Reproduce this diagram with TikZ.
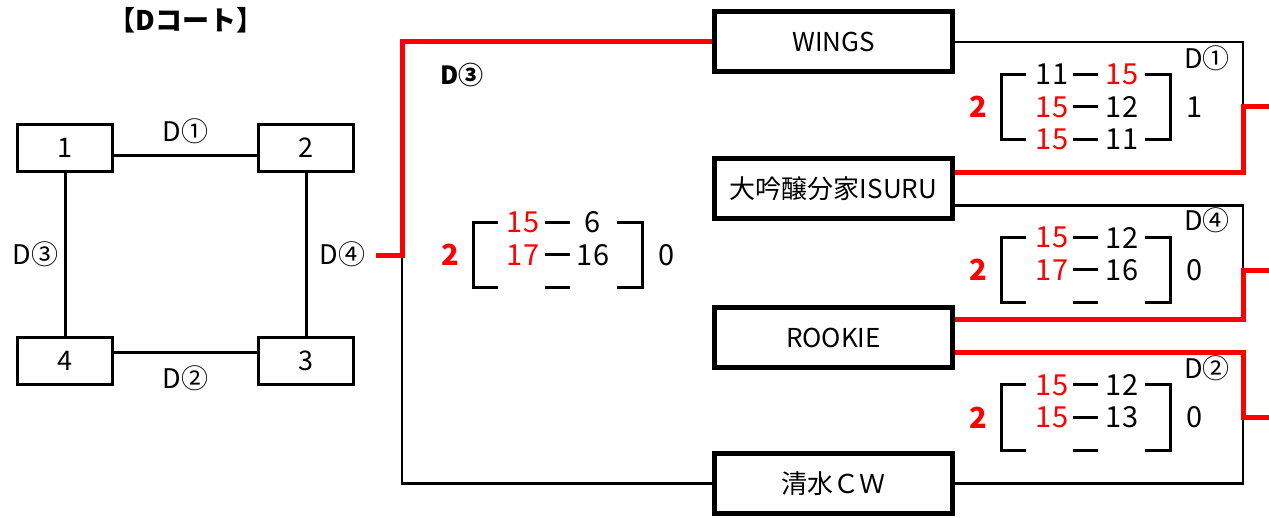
\documentclass[tikz,border=0pt]{standalone}
\usepackage{fontspec}
\setmainfont{Noto Sans CJK JP}
\usetikzlibrary{positioning}

\tikzset{
  court/.style={draw, line width=3pt, minimum width=95pt, minimum height=47pt,
    font=\fontsize{27}{30}\selectfont},
  team/.style={draw, line width=5pt, minimum width=238pt, minimum height=60pt,
    font=\fontsize{26}{30}\selectfont},
  link/.style={line width=3pt},
  lose/.style={line width=2.5pt},
  win/.style={line width=5pt, red},
  bracket/.style={line width=3pt},
  lab/.style={font=\fontsize{27}{30}\selectfont, inner sep=0pt},
  wsc/.style={font=\fontsize{29}{32}\selectfont, red, inner sep=0pt},
  lsc/.style={font=\fontsize{29}{32}\selectfont, inner sep=0pt},
  wtot/.style={font=\fontsize{29}{32}\selectfont\bfseries, red, inner sep=0pt},
  ltot/.style={font=\fontsize{29}{32}\selectfont, inner sep=0pt},
}

% bracket round the set scores of one match
\newcommand{\scoreframe}[2]{%
  \begin{scope}[shift={(#1,#2)}]
    \draw[bracket] (-59.5,-32.5) -| (-84.5,32.5) -- (-59.5,32.5);
    \draw[bracket] (59.5,-32.5) -| (84.5,32.5) -- (59.5,32.5);
    \foreach \r in {-32.5,0,32.5}
      \draw[bracket] (-12.5,\r) -- (12.5,\r);
  \end{scope}}

\begin{document}
\begin{tikzpicture}[x=1pt, y=-1pt]
    \useasboundingbox (0,0) rectangle (1269,518);

    % Court
    \node[font=\fontsize{27}{30}\selectfont\bfseries] (ttl) at (186,20) {【Dコート】};
    \node[court] (c1) at (65,148) {1};
    \node[court, right=143pt of c1] (c2) {2};
    \node[court, below=163pt of c1] (c4) {4};
    \node[court, right=143pt of c4] (c3) {3};

    \draw[link] ([yshift=-8pt]c1.east) -- ([yshift=-8pt]c2.west)
        node[lab, midway, above=11pt] (m1) {D①};
    \draw[link] ([yshift=8pt]c4.east) -- ([yshift=8pt]c3.west)
        node[lab, midway, below=11pt] (m2) {D②};
    \draw[link] (c1) -- (c4) node[lab, midway, left=5pt] (m3) {D③};
    \draw[link] (c2) -- (c3) node[lab, midway, right=12pt] (m4) {D④};

    % Teams
    \node[team] (wings) at (833.5,42) {WINGS};
    \node[team] (isuru) at (833.5,188.5) {大吟醸分家ISURU};
    \node[team] (rookie) at (833.5,337.5) {ROOKIE};
    \node[team] (shimizu) at (833.5,483.5) {清水ＣＷ};

    % D3: WINGS - shimizu
    \coordinate (j3) at (402,256);
    \coordinate (o3) at (376,256);
    \draw[lose] (j3) |- (shimizu.west);
    \draw[win] (o3) -- (j3) |- (wings.west);
    \node[lab, font=\fontsize{25}{28}\selectfont\bfseries] (r3) at (462,75) {D③};

    % D1: WINGS - isuru
    \coordinate (j1) at (1243,107);
    \coordinate (o1) at (1269,107);
    \draw[lose] (wings.east) -| (j1);
    \draw[win] ([yshift=16pt]isuru.east) -| (j1) -- (o1);
    \node[lab] (r1) at (1207,58) {D①};

    % D4: isuru - rookie
    \coordinate (j4) at (1243,271);
    \coordinate (o4) at (1269,271);
    \draw[lose] ([yshift=-17pt]isuru.east) -| (j4);
    \draw[win] ([yshift=18pt]rookie.east) -| (j4) -- (o4);
    \node[lab] (r4) at (1207,220) {D④};

    % D2: rookie - shimizu
    \coordinate (j2) at (1243,417);
    \coordinate (o2) at (1269,417);
    \draw[lose] (shimizu.east) -| (j2);
    \draw[win] ([yshift=-15pt]rookie.east) -| (j2) -- (o2);
    \node[lab] (r2) at (1207,368) {D②};

    % Scores D3
    \scoreframe{557.5}{255}
    \node[wtot] (t3a) at (450,255) {2};
    \node[ltot] (t3b) at (667,255) {0};
    \node[wsc] (s3a1) at (523,222.5) {15};
    \node[lsc] (s3b1) at (593,222.5) {6};
    \node[wsc] (s3a2) at (523,255) {17};
    \node[lsc] (s3b2) at (593,255) {16};

    % Scores D1
    \scoreframe{1085.5}{107}
    \node[wtot] (t1a) at (978,107) {2};
    \node[ltot] (t1b) at (1195,107) {1};
    \node[lsc] (s1a1) at (1052,74.5) {11};
    \node[wsc] (s1b1) at (1122,74.5) {15};
    \node[wsc] (s1a2) at (1052,107) {15};
    \node[lsc] (s1b2) at (1122,107) {12};
    \node[wsc] (s1a3) at (1052,139.5) {15};
    \node[lsc] (s1b3) at (1122,139.5) {11};

    % Scores D4
    \scoreframe{1085.5}{270}
    \node[wtot] (t4a) at (978,270) {2};
    \node[ltot] (t4b) at (1195,270) {0};
    \node[wsc] (s4a1) at (1052,237.5) {15};
    \node[lsc] (s4b1) at (1122,237.5) {12};
    \node[wsc] (s4a2) at (1052,270) {17};
    \node[lsc] (s4b2) at (1122,270) {16};

    % Scores D2
    \scoreframe{1085.5}{417.5}
    \node[wtot] (t2a) at (978,417.5) {2};
    \node[ltot] (t2b) at (1195,417.5) {0};
    \node[wsc] (s2a1) at (1052,385) {15};
    \node[lsc] (s2b1) at (1122,385) {12};
    \node[wsc] (s2a2) at (1052,417.5) {15};
    \node[lsc] (s2b2) at (1122,417.5) {13};
\end{tikzpicture}
\end{document}
